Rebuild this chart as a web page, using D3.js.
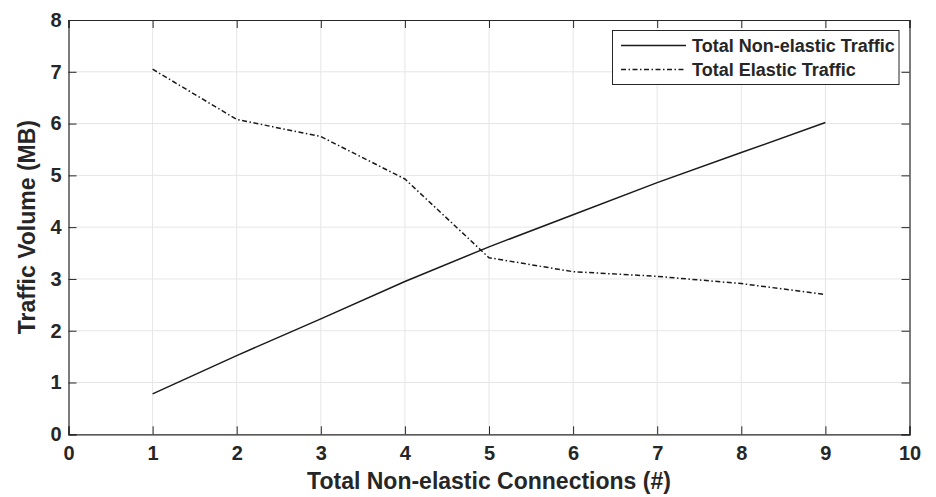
<!DOCTYPE html>
<html>
<head>
<meta charset="utf-8">
<script src="https://cdn.jsdelivr.net/npm/d3@7"></script>
<style>
  body { margin: 0; background: #fff; }
  text { font-family: "Liberation Sans", Arial, sans-serif; font-weight: bold; fill: #262626; }
</style>
</head>
<body>
<div id="chart"></div>
<script>
// data
const connections = [1, 2, 3, 4, 5, 6, 7, 8, 9];
const nonElastic = [0.78, 1.52, 2.23, 2.95, 3.62, 4.24, 4.86, 5.44, 6.02];
const elastic = [7.05, 6.08, 5.75, 4.93, 3.41, 3.14, 3.05, 2.91, 2.70];
const xTicks = [0, 1, 2, 3, 4, 5, 6, 7, 8, 9, 10];
const yTicks = [0, 1, 2, 3, 4, 5, 6, 7, 8];
const seriesNames = ["Total Non-elastic Traffic", "Total Elastic Traffic"];

const W = 936, H = 497;
const margin = { top: 20, right: 26.5, bottom: 62.7, left: 68.5 };
const width = W - margin.left - margin.right;
const height = H - margin.top - margin.bottom;

const svg = d3.select("#chart").append("svg")
  .attr("width", W).attr("height", H);
const g = svg.append("g")
  .attr("transform", `translate(${margin.left},${margin.top})`);

const x = d3.scaleLinear().domain([0, 10]).range([0, width]);
const y = d3.scaleLinear().domain([0, 8]).range([height, 0]);

// grid
g.append("g").selectAll("line").data(xTicks.slice(1, -1)).enter().append("line")
  .attr("x1", d => x(d)).attr("x2", d => x(d))
  .attr("y1", 0).attr("y2", height)
  .attr("stroke", "#e6e6e6").attr("stroke-width", 1);
g.append("g").selectAll("line").data(yTicks.slice(1, -1)).enter().append("line")
  .attr("y1", d => y(d)).attr("y2", d => y(d))
  .attr("x1", 0).attr("x2", width)
  .attr("stroke", "#e6e6e6").attr("stroke-width", 1);

// axes (ticks inside, matlab style)
const tk = 8;
const xAxis = g.append("g").attr("transform", `translate(0,${height})`)
  .call(d3.axisBottom(x).tickValues(xTicks).tickSize(-tk).tickPadding(12).tickFormat(d3.format("d")));
const yAxis = g.append("g")
  .call(d3.axisLeft(y).tickValues(yTicks).tickSize(-tk).tickPadding(7).tickFormat(d3.format("d")));
const xTop = g.append("g")
  .call(d3.axisTop(x).tickValues(xTicks).tickSize(-tk).tickFormat(""));
const yRight = g.append("g").attr("transform", `translate(${width},0)`)
  .call(d3.axisRight(y).tickValues(yTicks).tickSize(-tk).tickFormat(""));

[xAxis, yAxis, xTop, yRight].forEach(a => {
  a.select(".domain").attr("stroke", "#262626").attr("stroke-width", 1.2);
  a.selectAll(".tick line").attr("stroke", "#262626").attr("stroke-width", 1);
  a.selectAll("text").style("font-size", "20px").attr("fill", "#1a1a1a");
});

// lines
const line = d3.line().x((d, i) => x(connections[i])).y(d => y(d));
g.append("path").datum(nonElastic)
  .attr("d", line).attr("fill", "none")
  .attr("stroke", "#1a1a1a").attr("stroke-width", 1.5);
g.append("path").datum(elastic)
  .attr("d", line).attr("fill", "none")
  .attr("stroke", "#1a1a1a").attr("stroke-width", 1.5)
  .attr("stroke-dasharray", "5,2.5,1.5,2.5");

// axis titles
svg.append("text")
  .attr("x", margin.left + width / 2).attr("y", 489)
  .attr("text-anchor", "middle").style("font-size", "23px")
  .text("Total Non-elastic Connections (#)");
svg.append("text")
  .attr("transform", `translate(35,${margin.top + height / 2}) rotate(-90)`)
  .attr("text-anchor", "middle").style("font-size", "23px")
  .text("Traffic Volume (MB)");

// legend
const lg = svg.append("g");
lg.append("rect")
  .attr("x", 612.5).attr("y", 30.5).attr("width", 286.5).attr("height", 54)
  .attr("fill", "#fff").attr("stroke", "#262626").attr("stroke-width", 1);
seriesNames.forEach((name, i) => {
  const yy = 45.5 + i * 24;
  lg.append("line")
    .attr("x1", 621).attr("x2", 686).attr("y1", yy).attr("y2", yy)
    .attr("stroke", "#1a1a1a").attr("stroke-width", 1.5)
    .attr("stroke-dasharray", i === 1 ? "5,2.5,1.5,2.5" : null);
  lg.append("text")
    .attr("x", 692).attr("y", yy + 6.5)
    .style("font-size", "18px")
    .text(name);
});
</script>
</body>
</html>
